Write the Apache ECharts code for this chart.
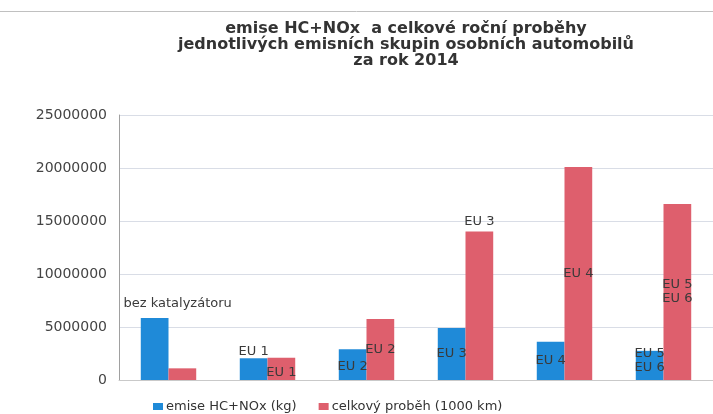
<!DOCTYPE html>
<html>
<head>
<meta charset="utf-8">
<script src="https://cdn.jsdelivr.net/npm/echarts@6/dist/echarts.min.js"></script>
<style>
  html, body { margin: 0; padding: 0; background: #fff; }
  #chart { width: 713px; height: 414px; }
</style>
</head>
<body>
<div id="chart"></div>
<script>
// skupiny vozidel
var categories = ['bez katalyzátoru', 'EU 1', 'EU 2', 'EU 3', 'EU 4', 'EU 5\nEU 6']
// emise HC+NOx (kg)
var emise = [5850000, 2050000, 2900000, 4900000, 3600000, 2750000]
// celkový proběh (1000 km)
var probeh = [1100000, 2100000, 5750000, 14000000, 20100000, 16600000]
var yTicks = [0, 5000000, 10000000, 15000000, 20000000, 25000000]

var labelFont = { fontFamily: 'DejaVu Sans', fontSize: 13, color: '#3a3a3a', lineHeight: 14 }

// umisteni popisku u modrych sloupcu
var blueLabels = [
  { position: 'top', offset: [23, -2] },
  { position: 'top', distance: 0 },
  { position: 'inside', offset: [0, 2] },
  { position: 'inside' },
  { position: 'inside' },
  { position: 'inside', offset: [0, -5] }
]
// umisteni popisku u cervenych sloupcu
var redLabels = [
  { show: false },
  { position: 'inside', offset: [0, 4] },
  { position: 'inside' },
  { position: 'top', distance: 3 },
  { position: 'inside' },
  { position: 'inside' }
]

function buildData(values, labels) {
  return values.map(function (v, i) {
    return {
      value: v,
      label: Object.assign({ show: true, formatter: categories[i] }, labelFont, labels[i])
    }
  })
}

var chart = echarts.init(document.getElementById('chart'))
chart.setOption({
  animation: false,
  backgroundColor: '#fff',
  title: {
    text: 'emise HC+NOx  a celkové roční proběhy\njednotlivých emisních skupin osobních automobilů\nza rok 2014',
    left: 401,
    top: 16,
    textAlign: 'center',
    textStyle: {
      fontFamily: 'DejaVu Sans',
      fontWeight: 'bold',
      fontSize: 16,
      lineHeight: 16,
      color: '#333'
    }
  },
  graphic: [{
    type: 'line',
    shape: { x1: 0, y1: 11.5, x2: 713, y2: 11.5 },
    style: { stroke: '#c0c0c0', lineWidth: 1 }
  }],
  legend: {
    top: 400,
    left: 153,
    padding: 0,
    itemWidth: 10,
    itemHeight: 7,
    itemGap: 22,
    icon: 'rect',
    textStyle: { fontFamily: 'DejaVu Sans', fontSize: 13, color: '#333', padding: [0, 0, 0, -2] },
    data: ['emise HC+NOx (kg)', 'celkový proběh (1000 km)']
  },
  grid: {
    left: 119,
    right: -4,
    top: 115,
    bottom: 34
  },
  xAxis: {
    type: 'category',
    data: categories,
    axisLine: { lineStyle: { color: '#c9c9c9' } },
    axisTick: { show: false },
    axisLabel: { show: false }
  },
  yAxis: {
    type: 'value',
    min: yTicks[0],
    max: yTicks[yTicks.length - 1],
    interval: 5000000,
    axisLine: { show: true, lineStyle: { color: '#a0a0a0' } },
    axisTick: { show: false },
    axisLabel: {
      margin: 12,
      fontFamily: 'DejaVu Sans',
      fontSize: 14,
      color: '#444',
      formatter: function (v) { return String(v) }
    },
    splitLine: { lineStyle: { color: '#d9dde6' } }
  },
  series: [
    {
      name: 'emise HC+NOx (kg)',
      type: 'bar',
      data: buildData(emise, blueLabels),
      barGap: '0%',
      barCategoryGap: '44%',
      itemStyle: { color: '#1f8ad8' }
    },
    {
      name: 'celkový proběh (1000 km)',
      type: 'bar',
      data: buildData(probeh, redLabels),
      itemStyle: { color: '#de5f6d' }
    }
  ]
})
</script>
</body>
</html>
